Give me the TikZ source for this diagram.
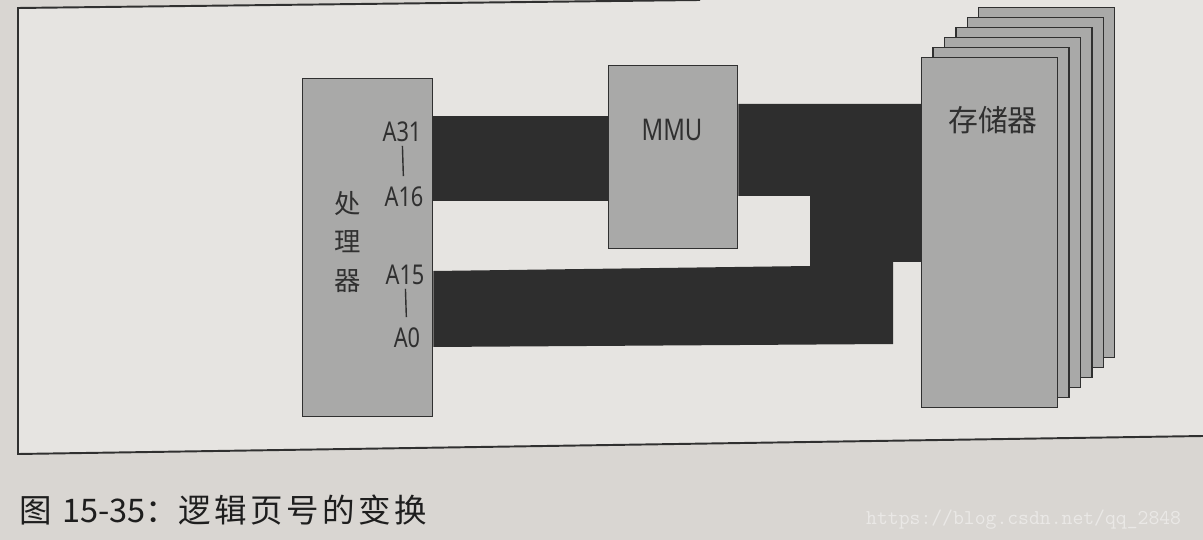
\documentclass[tikz,border=0pt]{standalone}
\usepackage{fontspec}
\newfontfamily\cjk{Noto Sans CJK SC}
\newfontfamily\cjkwide[LetterSpace=11]{Noto Sans CJK SC}
\newfontfamily\pinfont[FakeStretch=0.8]{Noto Sans}
\usetikzlibrary{backgrounds}

\definecolor{paper}{HTML}{D9D6D2}
\definecolor{paperin}{HTML}{E6E4E1}
\definecolor{blockgray}{HTML}{A9A9A8}
\definecolor{busblack}{HTML}{2E2E2E}
\definecolor{edge}{HTML}{303030}
\definecolor{captext}{HTML}{1E1E1E}

\tikzset{
  block/.style={draw=edge, line width=0.8pt, fill=blockgray, inner sep=0pt, anchor=north west},
  pin/.style={font=\pinfont\fontsize{15.5}{15.5}\selectfont, text=edge, inner sep=1pt},
  pinline/.style={draw=edge, line width=0.8pt, shorten <=1pt, shorten >=5pt},
  bus/.style={fill=busblack},
  frame/.style={draw=edge, line width=1.1pt},
}

\begin{document}
\begin{tikzpicture}[x=0.02cm, y=-0.02cm]
    \useasboundingbox (0,0) rectangle (1203,540);

    % processor, MMU and the stack of memory sheets
    \node[block, minimum width=2.6cm, minimum height=6.76cm] (proc) at (302,78) {};
    \node[block, minimum width=2.58cm, minimum height=3.66cm] (mmu) at (608,65) {};
    \foreach \i in {5,...,1}
        \node[block, minimum width=2.72cm, minimum height=7cm] (mem\i) at (921+11.4*\i, 57-10*\i) {};
    \node[block, minimum width=2.72cm, minimum height=7cm] (mem) at (921,57) {};

    \node[font=\cjk\fontsize{15}{22}\selectfont, text=edge, align=center] (proctxt) at (348,242) {处\\理\\器};
    \node[font=\pinfont\fontsize{17}{17}\selectfont, text=edge] (mmutxt) at (672,130) {MMU};
    \node[font=\cjk\fontsize{17}{17}\selectfont, text=edge] (memtxt) at (993,120) {存储器};

    % address pins
    \node[pin] (a31) at (402,132) {A31};
    \node[pin] (a16) at (404,197) {A16};
    \node[pin] (a15) at (405,275) {A15};
    \node[pin] (a0) at (407,338) {A0};
    \draw[pinline] (a31) -- (a16);
    \draw[pinline] (a15) -- (a0);

    % caption and watermark
    \node[anchor=west, font=\cjk\fontsize{18.5}{19}\selectfont, text=captext] (cap) at (13,510)
        {图\hspace{6pt}15-35：{\cjkwide 逻辑页号的变换}};
    \node[anchor=west, font=\ttfamily\fontsize{12}{12}\selectfont, text=white, opacity=0.45] (wm) at (860,520) {https://blog.csdn.net/qq\_2848};

    \begin{scope}[on background layer]
        \fill[paper] (0,0) rectangle (1203,540);
        \fill[paperin] (18,8) -- (700,0) -- (1203,0) -- (1203,436) -- (18,454) -- cycle;
        \draw[frame] (700,0) -- (18,8) -- (18,454) -- (1203,436);

        % address buses
        \fill[bus] (proc.east |- 0,116) rectangle (mmu.west |- 0,201);
        \fill[bus] (mmu.east |- 0,104) -- (mem.west |- 0,104) -- (mem.west |- 0,262) -- (893,262)
            -- (893,344) -- (proc.east |- 0,347) -- (proc.east |- 0,271) -- (810,266)
            -- (810,196) -- (mmu.east |- 0,196) -- cycle;
    \end{scope}
\end{tikzpicture}
\end{document}
